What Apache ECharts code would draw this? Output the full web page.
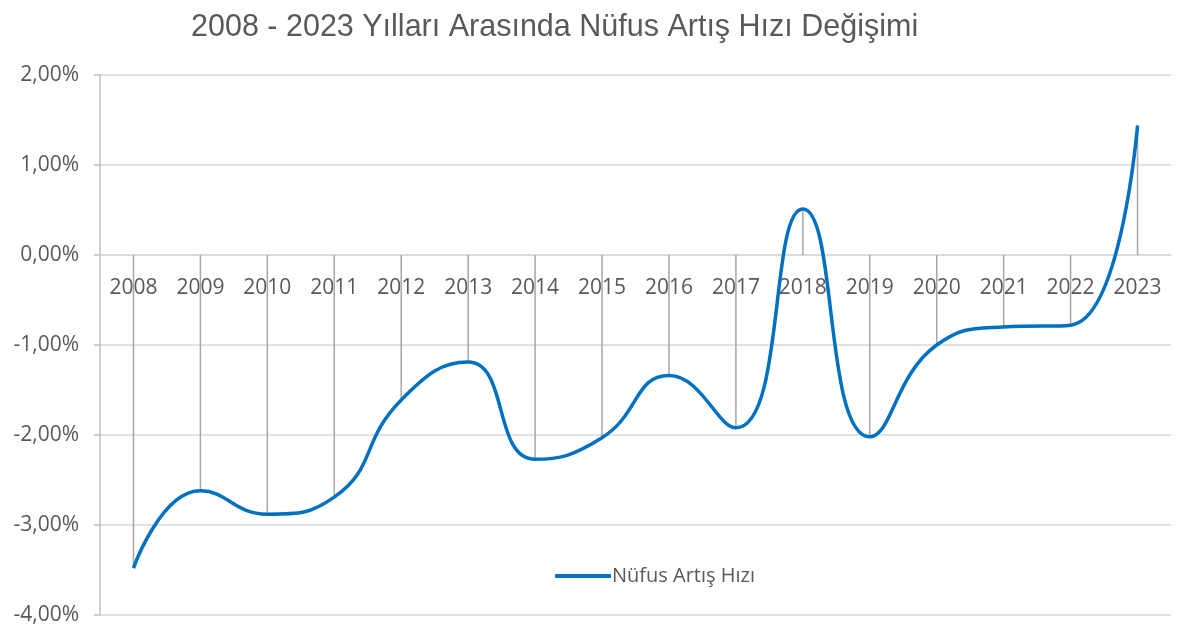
<!DOCTYPE html>
<html>
<head>
<meta charset="utf-8">
<title>Nüfus Artış Hızı</title>
<script src="https://cdn.jsdelivr.net/npm/echarts@6/dist/echarts.min.js"></script>
<style>
  html, body { margin: 0; padding: 0; background: #fff; }
  #chart { width: 1177px; height: 630px; }
</style>
</head>
<body>
<div id="chart"></div>
<script>
// yıllar
var years = ['2008', '2009', '2010', '2011', '2012', '2013', '2014', '2015',
  '2016', '2017', '2018', '2019', '2020', '2021', '2022', '2023']
// nüfus artış hızı (%)
var growthRate = [-3.48, -2.62, -2.88, -2.69, -1.61, -1.19, -2.27, -2.03,
  -1.34, -1.92, 0.51, -2.02, -1.00, -0.80, -0.78, 1.44]

var grey = '#595959'
var chart = echarts.init(document.getElementById('chart'))

chart.setOption({
  backgroundColor: '#fff',
  animation: false,
  title: {
    text: '2008 - 2023 Yılları Arasında Nüfus Artış Hızı Değişimi',
    left: 186,
    top: 7,
    textStyle: {
      fontFamily: 'Liberation Sans',
      fontSize: 30.5,
      fontWeight: 'normal',
      color: grey
    }
  },
  legend: {
    data: [{ name: 'Nüfus Artış Hızı', icon: 'roundRect' }],
    left: 550,
    top: 561,
    itemWidth: 56,
    itemHeight: 4,
    itemGap: 10,
    textStyle: {
      fontFamily: 'Open Sans',
      fontSize: 20,
      color: grey,
      padding: [0, 0, 0, -4]
    }
  },
  grid: {
    left: 100,
    right: 6,
    top: 75,
    bottom: 15,
    containLabel: false,
    outerBoundsMode: 'none'
  },
  xAxis: {
    type: 'category',
    data: years,
    boundaryGap: true,
    // eksen 0 çizgisine taşınıyor (ızgara yüksekliği 540, 0 üstten 180px)
    position: 'top',
    offset: -180,
    axisLine: { show: true, onZero: false, lineStyle: { color: '#d9d9d9', width: 1.5 } },
    axisTick: { show: false },
    axisLabel: {
      inside: true,
      margin: 23,
      fontFamily: 'Open Sans',
      fontSize: 21,
      color: grey
    }
  },
  yAxis: {
    type: 'value',
    min: -4,
    max: 2,
    interval: 1,
    axisLine: { show: true, lineStyle: { color: '#bfbfbf', width: 1.5 } },
    axisTick: { show: true, length: 6, lineStyle: { color: '#bfbfbf', width: 1.5 } },
    splitLine: { lineStyle: { color: '#d9d9d9', width: 1.5 } },
    axisLabel: {
      margin: 21,
      fontFamily: 'Open Sans',
      fontSize: 21,
      color: grey,
      formatter: function(v) {
        return v.toFixed(2).replace('.', ',') + '%'
      }
    }
  },
  series: [
    {
      // değerden eksene inen dikey çizgiler
      name: 'drop',
      type: 'bar',
      data: growthRate,
      barWidth: 1.5,
      itemStyle: { color: '#a6a6a6' },
      silent: true,
      z: 1
    },
    {
      name: 'Nüfus Artış Hızı',
      type: 'line',
      data: growthRate,
      smooth: 0.5,
      symbol: 'none',
      lineStyle: { color: '#0070c0', width: 3.5 },
      itemStyle: { color: '#0070c0' },
      z: 3
    }
  ]
})
</script>
</body>
</html>
